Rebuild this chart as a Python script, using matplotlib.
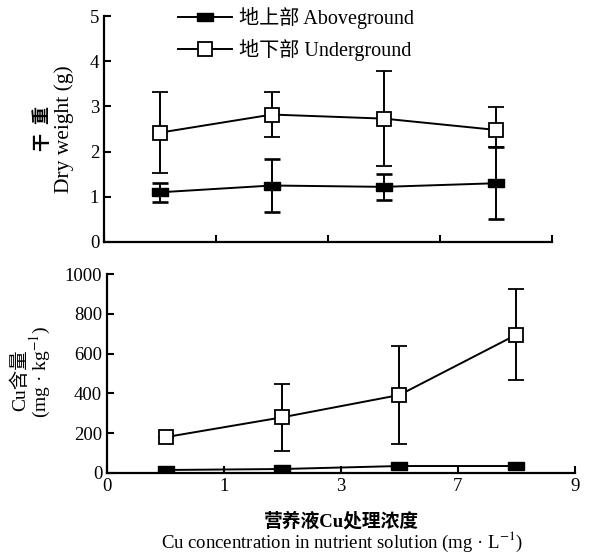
import matplotlib
matplotlib.use("Agg")
import matplotlib.pyplot as plt
from matplotlib.lines import Line2D
import numpy as np

plt.rcParams['font.family'] = ['Liberation Serif', 'Noto Sans CJK SC']
plt.rcParams['mathtext.fontset'] = 'stix'

# ---- data ----
tick_labels = ['0', '1', '3', '7', '9']
x_pos = [0.5, 1.5, 2.5, 3.5]

dw_above = [1.10, 1.25, 1.22, 1.30]
dw_above_err = [0.21, 0.58, 0.28, 0.80]
dw_under = [2.42, 2.82, 2.73, 2.48]
dw_under_lo = [0.89, 0.50, 1.05, 0.38]
dw_under_hi = [0.89, 0.50, 1.05, 0.51]

cu_above = [15, 20, 35, 35]
cu_under = [180, 280, 392, 695]
cu_under_err = [0, 168, 245, 228]

legend_labels = ['地上部 Aboveground', '地下部 Underground']

rect = [(-1, -0.45), (1, -0.45), (1, 0.45), (-1, 0.45), (-1, -0.45)]

fig = plt.figure(figsize=(5.89, 5.53), dpi=100)
ax1 = fig.add_axes([0.1766, 0.5624, 0.937 - 0.1766, 0.971 - 0.5624])
ax2 = fig.add_axes([0.1817, 0.1447, 0.976 - 0.1817, 0.5045 - 0.1447])

line_kw = dict(color='black', lw=1.4, capsize=5.5, elinewidth=1.4, capthick=1.9)
above_style = dict(marker=rect, ms=12, mfc='black', mec='black')
under_style = dict(marker='s', ms=9.5, mfc='white', mec='black', mew=1.3)

ax1.errorbar(x_pos, dw_above, yerr=dw_above_err, **above_style, **line_kw)
ax1.errorbar(x_pos, dw_under, yerr=[dw_under_lo, dw_under_hi], **under_style, **line_kw)

ax2.errorbar(x_pos, cu_above, **above_style, **line_kw)
ax2.errorbar(x_pos, cu_under, yerr=cu_under_err, **under_style, **line_kw)

for ax in (ax1, ax2):
    ax.set_xlim(0, 4)
    ax.set_xticks(range(5))
    for s in ('top', 'right'):
        ax.spines[s].set_visible(False)
    for s in ('left', 'bottom'):
        ax.spines[s].set_linewidth(1.6)
    ax.tick_params(direction='in', length=5, width=1.5, labelsize=13.5)

ax1.set_ylim(0, 5)
ax1.set_yticks(range(6))
ax1.set_xticklabels([])

ax2.set_ylim(0, 1000)
ax2.set_yticks(range(0, 1001, 200))
ax2.set_xticklabels(tick_labels)

handles = [Line2D([], [], color='black', lw=1.4, **above_style),
           Line2D([], [], color='black', lw=1.4, **under_style)]
ax1.legend(handles, legend_labels, loc='upper left', bbox_to_anchor=(0.148, 1.075),
           borderaxespad=0, frameon=False, fontsize=14.5, handlelength=2.65,
           handletextpad=0.35, labelspacing=0.5)

fig.text(0.073, 0.767, '干  重', rotation=90, ha='center', va='center', fontsize=13,
         fontweight='bold')
fig.text(0.109, 0.767, 'Dry weight (g)', rotation=90, ha='center', va='center', fontsize=15.5)

fig.text(0.034, 0.312, 'Cu含量', rotation=90, ha='center', va='center', fontsize=14)
fig.text(0.069, 0.327, '(mg · kg$^{-1}$)', rotation=90, ha='center', va='center', fontsize=14)

fig.text(0.58, 0.057, '营养液Cu处理浓度', ha='center', va='center', fontsize=13.5, fontweight='bold')
fig.text(0.58, 0.020, 'Cu concentration in nutrient solution (mg · L$^{-1}$)', ha='center',
         va='center', fontsize=13.5)

fig.savefig('out.png', dpi=100)
